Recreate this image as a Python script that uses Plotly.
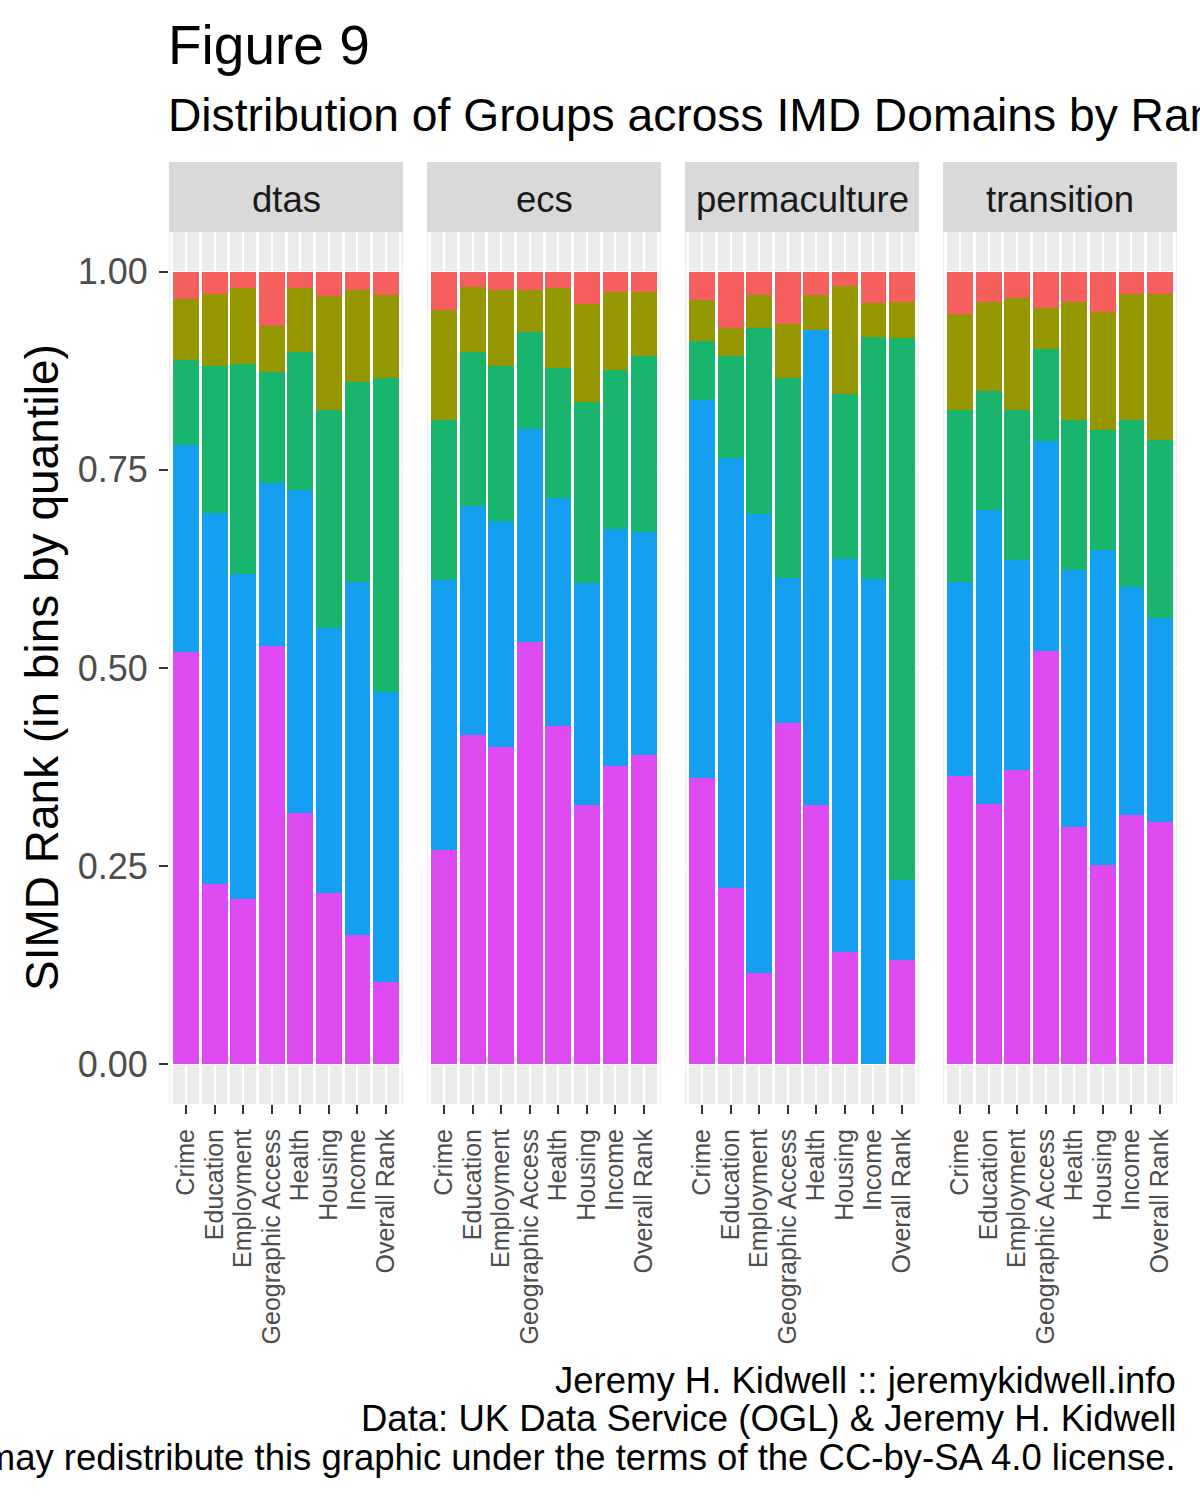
import plotly.graph_objects as go

# ---------------- data ----------------
groups = ["dtas", "ecs", "permaculture", "transition"]
domains = ["Crime", "Education", "Employment", "Geographic Access",
           "Health", "Housing", "Income", "Overall Rank"]

# share of each group's entries in each SIMD quintile bin (bottom -> top)
q5 = {  # bottom (pink)
    "dtas":         [0.520, 0.227, 0.208, 0.528, 0.317, 0.216, 0.163, 0.104],
    "ecs":          [0.271, 0.415, 0.400, 0.533, 0.427, 0.327, 0.377, 0.390],
    "permaculture": [0.361, 0.222, 0.115, 0.430, 0.327, 0.142, 0.000, 0.132],
    "transition":   [0.364, 0.328, 0.371, 0.521, 0.299, 0.251, 0.314, 0.306],
}
q4 = {  # blue
    "dtas":         [0.261, 0.468, 0.410, 0.206, 0.407, 0.335, 0.445, 0.366],
    "ecs":          [0.340, 0.289, 0.286, 0.268, 0.288, 0.280, 0.298, 0.281],
    "permaculture": [0.477, 0.543, 0.579, 0.183, 0.599, 0.495, 0.612, 0.101],
    "transition":   [0.244, 0.371, 0.265, 0.265, 0.324, 0.398, 0.288, 0.257],
}
q3 = {  # green
    "dtas":         [0.108, 0.186, 0.265, 0.140, 0.175, 0.275, 0.253, 0.396],
    "ecs":          [0.202, 0.194, 0.195, 0.123, 0.164, 0.229, 0.201, 0.222],
    "permaculture": [0.074, 0.128, 0.235, 0.253, 0.000, 0.209, 0.306, 0.683],
    "transition":   [0.218, 0.150, 0.189, 0.116, 0.190, 0.151, 0.211, 0.224],
}
q2 = {  # olive
    "dtas":         [0.077, 0.091, 0.096, 0.058, 0.080, 0.143, 0.116, 0.105],
    "ecs":          [0.138, 0.082, 0.096, 0.053, 0.100, 0.123, 0.098, 0.081],
    "permaculture": [0.052, 0.036, 0.042, 0.068, 0.045, 0.136, 0.042, 0.046],
    "transition":   [0.121, 0.113, 0.142, 0.052, 0.149, 0.149, 0.159, 0.185],
}
q1 = {  # top (red)
    "dtas":         [0.034, 0.028, 0.021, 0.068, 0.021, 0.031, 0.023, 0.029],
    "ecs":          [0.049, 0.020, 0.023, 0.023, 0.021, 0.041, 0.026, 0.026],
    "permaculture": [0.036, 0.071, 0.029, 0.066, 0.029, 0.018, 0.040, 0.038],
    "transition":   [0.053, 0.038, 0.033, 0.046, 0.038, 0.051, 0.028, 0.028],
}
y_ticks = [0.0, 0.25, 0.5, 0.75, 1.0]
y_tick_labels = ["0.00", "0.25", "0.50", "0.75", "1.00"]

# ---------------- style ----------------
FONT = "Liberation Sans, Arial, Helvetica, sans-serif"
W, H = 1200, 1500
layers = [(q5, "#DE4BF0"), (q4, "#149FF1"), (q3, "#1AB56D"),
          (q2, "#949700"), (q1, "#F5605F")]

panel_px = [(169, 403), (427, 661), (685, 919), (943, 1177)]
panel_top, panel_bot = 232, 1104
strip_top = 162

def px_x(v):
    return v / W

def px_y(v):
    return 1 - v / H

positions = list(range(1, len(domains) + 1))
minor_pos = [p - 0.5 for p in positions] + [positions[-1] + 0.5]

fig = go.Figure()
layout = dict(
    width=W, height=H, margin=dict(l=0, r=0, t=0, b=0),
    paper_bgcolor="white", plot_bgcolor="#EBEBEB",
    barmode="stack", showlegend=False,
    font=dict(family=FONT, color="#1A1A1A"),
    shapes=[], annotations=[],
)

for i, g in enumerate(groups):
    n = "" if i == 0 else str(i + 1)
    for data, color in layers:
        fig.add_trace(go.Bar(
            x=positions, y=data[g], width=0.9,
            marker=dict(color=color, line=dict(width=0)),
            xaxis="x" + n, yaxis="y" + n, hoverinfo="skip",
        ))
    x0, x1 = panel_px[i]
    layout["xaxis" + n] = dict(
        domain=[px_x(x0), px_x(x1)], range=[0.4, 8.6], anchor="y" + n,
        tickmode="array", tickvals=positions, ticktext=domains,
        tickangle=-90, ticks="outside", ticklen=9, tickwidth=2.2,
        tickcolor="#333333", tickfont=dict(size=25, color="#4D4D4D"),
        ticklabelstandoff=5,
        showgrid=True, gridcolor="white", gridwidth=2.2,
        minor=dict(tickvals=minor_pos, showgrid=True, gridcolor="white",
                   gridwidth=3, ticks=""),
        zeroline=False, showline=False, fixedrange=True,
    )
    layout["yaxis" + n] = dict(
        domain=[px_y(panel_bot), px_y(panel_top)], range=[-0.05, 1.05],
        anchor="x" + n, tickmode="array", tickvals=y_ticks,
        ticktext=y_tick_labels, showticklabels=(i == 0),
        ticks="outside" if i == 0 else "", ticklen=9, tickwidth=2.2,
        tickcolor="#333333", tickfont=dict(size=36, color="#4D4D4D"),
        ticklabelstandoff=4,
        showgrid=True, gridcolor="white", gridwidth=2.2,
        minor=dict(tickvals=[0.125, 0.375, 0.625, 0.875], showgrid=True,
                   gridcolor="white", gridwidth=1.1, ticks=""),
        zeroline=False, showline=False, fixedrange=True,
    )
    layout["shapes"].append(dict(
        type="rect", xref="paper", yref="paper",
        x0=px_x(x0), x1=px_x(x1), y0=px_y(panel_top), y1=px_y(strip_top),
        fillcolor="#D9D9D9", line=dict(width=0), layer="below",
    ))
    layout["annotations"].append(dict(
        text=g, xref="paper", yref="paper", x=px_x((x0 + x1) / 2),
        y=px_y((panel_top + strip_top) / 2 + 2), xanchor="center",
        yanchor="middle", showarrow=False,
        font=dict(size=36.5, color="#1A1A1A", family=FONT),
    ))

texts = [
    dict(text="Figure 9", x=166, y=45, size=55, xanchor="left"),
    dict(text="Distribution of Groups across IMD Domains by Rank",
         x=166, y=115, size=46.2, xanchor="left"),
    dict(text="Jeremy H. Kidwell :: jeremykidwell.info",
         x=1178, y=1380, size=36.5, xanchor="right"),
    dict(text="Data: UK Data Service (OGL) &amp; Jeremy H. Kidwell",
         x=1178, y=1418, size=36.5, xanchor="right"),
    dict(text="You may redistribute this graphic under the terms of the CC-by-SA 4.0 license.",
         x=1178, y=1457, size=36.5, xanchor="right"),
]
for t in texts:
    layout["annotations"].append(dict(
        text=t["text"], xref="paper", yref="paper", x=px_x(t["x"]),
        y=px_y(t["y"]), xanchor=t["xanchor"], yanchor="middle",
        showarrow=False, font=dict(size=t["size"], color="black", family=FONT),
    ))

layout["annotations"].append(dict(
    text="SIMD Rank (in bins by quantile)", xref="paper", yref="paper",
    x=px_x(42), y=px_y(668), xanchor="center", yanchor="middle",
    textangle=-90, showarrow=False,
    font=dict(size=46, color="black", family=FONT),
))

fig.update_layout(**layout)
fig.write_html("out.html")
